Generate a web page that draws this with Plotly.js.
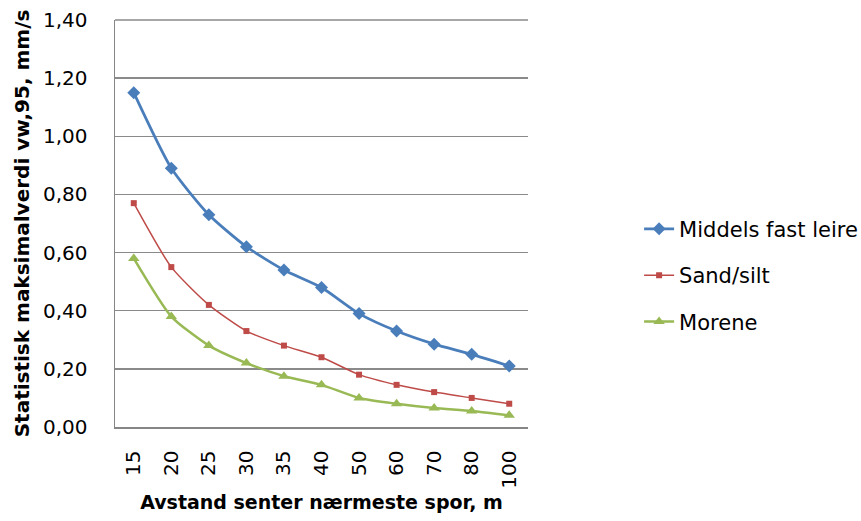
<!DOCTYPE html>
<html>
<head>
<meta charset="utf-8">
<script src="https://cdn.plot.ly/plotly-3.0.1.min.js"></script>
<style>html,body{margin:0;padding:0;background:#fff;}#chart{width:861px;height:521px;}</style>
</head>
<body>
<div id="chart"></div>
<script>
var categories = ["15","20","25","30","35","40","50","60","70","80","100"];
var seriesNames = ["Middels fast leire","Sand/silt","Morene"];
var middelsFastLeire = [1.15,0.89,0.73,0.62,0.54,0.48,0.39,0.33,0.285,0.25,0.21];
var sandSilt = [0.77,0.55,0.42,0.33,0.28,0.24,0.18,0.145,0.12,0.10,0.08];
var morene = [0.58,0.38,0.28,0.22,0.175,0.145,0.10,0.08,0.065,0.055,0.04];
var yTicks = [0,0.2,0.4,0.6,0.8,1.0,1.2,1.4];

var fontFam = "'DejaVu Sans', sans-serif";
var colors = ["#4a7ebb","#be4b48","#98b954"];
var symbols = ["diamond","square","triangle-up"];
var sizes = [10,6,10];
var widths = [2.75,1.5,2.5];
var data = [middelsFastLeire, sandSilt, morene].map(function(vals,i){
  return {
    type:"scatter", mode:"lines+markers",
    x:categories, y:vals, name:seriesNames[i], legendgroup:"g"+i,
    line:{color:colors[i], width:widths[i], shape:"spline", smoothing:0.6},
    marker:{color:colors[i], symbol:symbols[i], size:sizes[i]}
  };
});
var yTop = yTicks[yTicks.length-1];

var layout = {
  width:861, height:521,
  margin:{l:115, r:333, t:20, b:94, autoexpand:false},
  paper_bgcolor:"#fff", plot_bgcolor:"#fff",
  separators:", ",
  font:{family:fontFam, size:20, color:"#000"},
  xaxis:{
    type:"category", range:[-0.5,10.5],
    tickangle:-90, tickfont:{size:20}, ticklabelstandoff:14,
    showgrid:false, showline:true, linecolor:"#868686", linewidth:1.5,
    ticks:"", zeroline:false,
    title:{text:"<b>Avstand senter nærmeste spor, m</b>", font:{size:19}, standoff:8}
  },
  yaxis:{
    range:[0,yTop], tickvals:yTicks, tickformat:".2f",
    tickfont:{size:20}, ticklabelstandoff:22,
    showgrid:true, gridcolor:"#8a8a8a", gridwidth:1.5,
    showline:true, linecolor:"#868686", linewidth:1.5,
    ticks:"", zeroline:false,
    title:{text:"<b>Statistisk maksimalverdi vw,95, mm/s</b>", font:{size:20}, standoff:8}
  },
  shapes:[{type:"line", xref:"paper", x0:0, x1:1, yref:"paper", y0:1, y1:1,
           line:{color:"#8a8a8a", width:1.5}, layer:"below"}],
  legend:{
    x:1.269, xanchor:"left", y:0.373, yanchor:"middle",
    font:{size:21}, tracegroupgap:16, bgcolor:"rgba(0,0,0,0)"
  },
  showlegend:true
};
Plotly.newPlot("chart", data, layout, {staticPlot:true, displayModeBar:false});
</script>
</body>
</html>
